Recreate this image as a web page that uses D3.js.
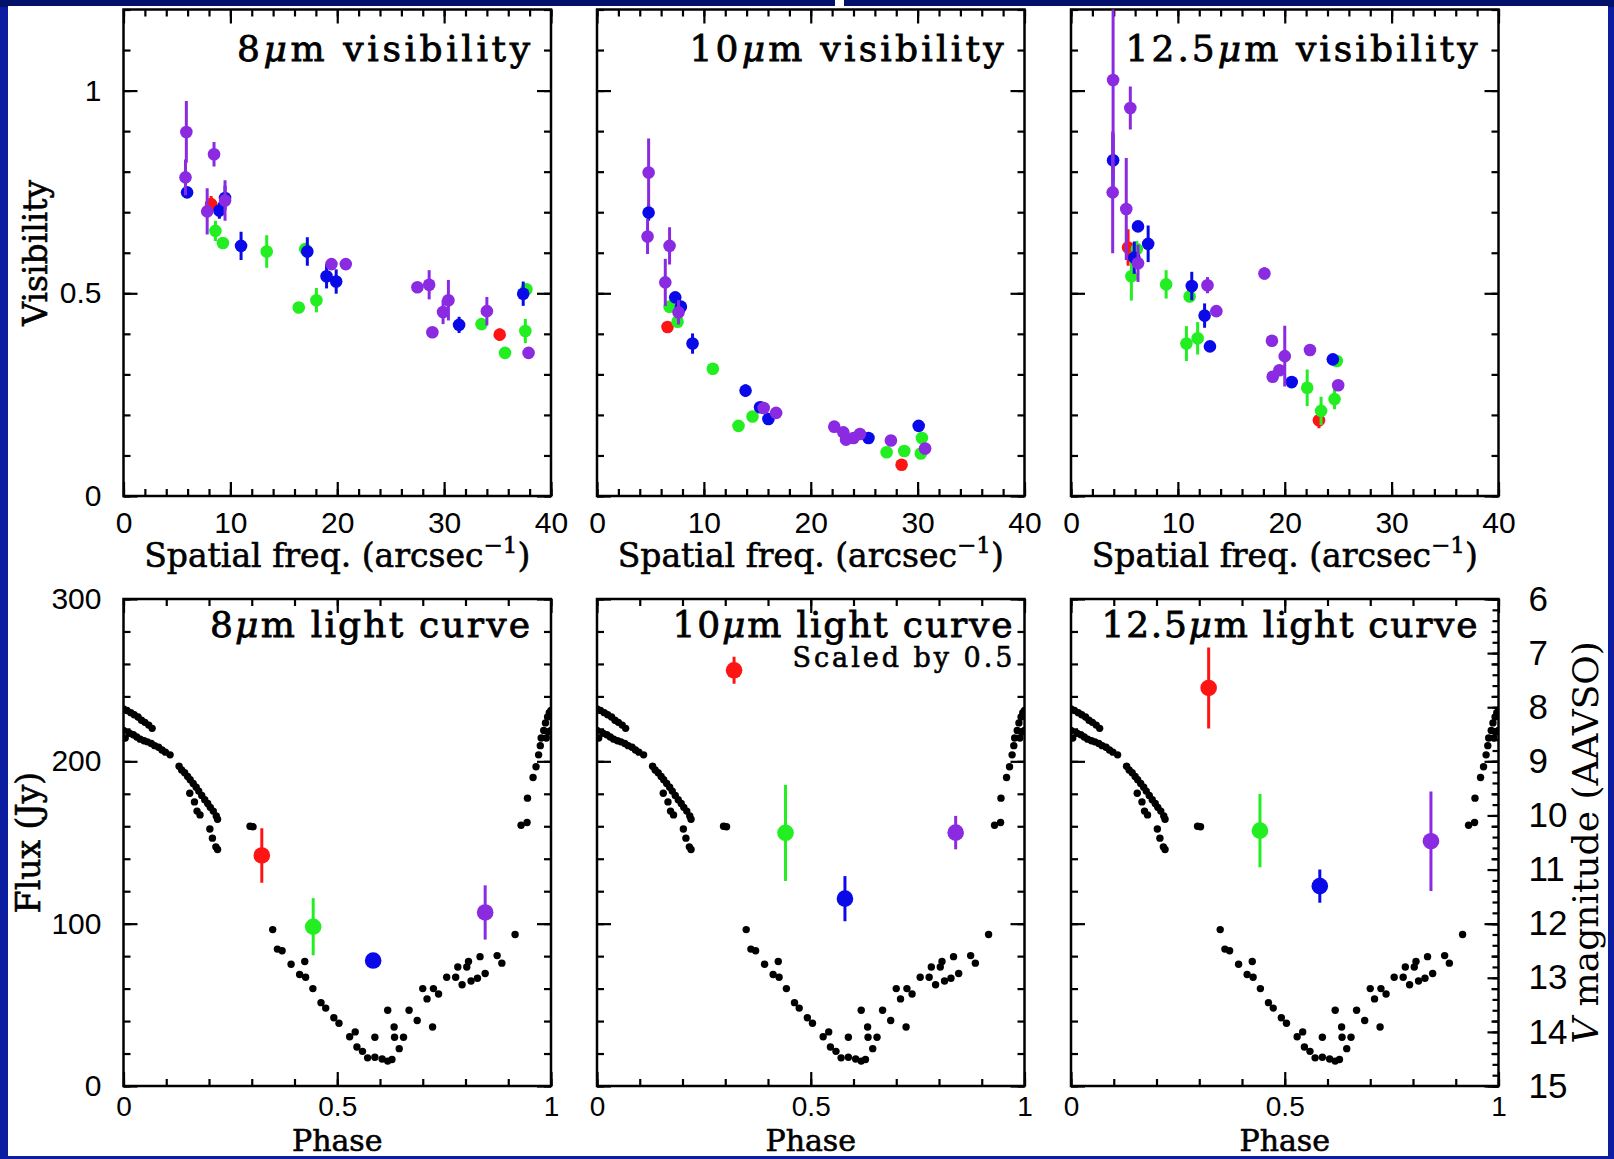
<!DOCTYPE html>
<html>
<head>
<meta charset="utf-8">
<script src="https://cdn.jsdelivr.net/npm/d3@7"></script>
<style>
  body { margin: 0; background: #0b1ea2; }
  svg { display: block; }
</style>
</head>
<body>
<script>
// ---------------- data ----------------
const freqTicks = [0, 10, 20, 30, 40];
const visTicks = [0, 0.5, 1];
const phaseTicks = [0, 0.5, 1];
const fluxTicks = [0, 100, 200, 300];
const magTicks = [6, 7, 8, 9, 10, 11, 12, 13, 14, 15];

const bands = ['8', '10', '12.5'];
// epoch colours, in drawing order
const epochColors = ['#ff1414', '#22ee22', '#0a0ae8', '#8a2be2'];

// visibility points: [spatial freq (arcsec^-1), visibility, error]
const vis8Red = [[8.2, 0.72, 0.02], [35.2, 0.398, 0.015]];
const vis8Green = [[8.6, 0.654, 0.025], [9.3, 0.624, 0], [13.4, 0.603, 0.04], [16.4, 0.465, 0], [17.0, 0.609, 0.01],
  [18.05, 0.483, 0.03], [33.5, 0.424, 0], [35.7, 0.353, 0], [37.6, 0.407, 0.03], [37.7, 0.51, 0]];
const vis8Blue = [[5.95, 0.749, 0], [8.97, 0.704, 0.02], [9.5, 0.735, 0.03], [11.0, 0.617, 0.035], [17.2, 0.603, 0.035],
  [19.0, 0.542, 0.03], [19.9, 0.529, 0.03], [31.4, 0.422, 0.02], [37.4, 0.499, 0.03]];
const vis8Purple = [[5.88, 0.898, 0.076], [5.8, 0.786, 0.044], [8.47, 0.843, 0.03], [7.83, 0.702, 0.057], [9.5, 0.729, 0.05],
  [19.46, 0.572, 0], [20.8, 0.572, 0], [27.5, 0.515, 0], [28.6, 0.521, 0.036], [28.9, 0.404, 0], [29.9, 0.454, 0.03],
  [30.4, 0.483, 0.05], [34.0, 0.456, 0.035], [37.9, 0.353, 0]];

const vis10Red = [[6.6, 0.417, 0], [28.5, 0.077, 0]];
const vis10Green = [[6.79, 0.467, 0], [7.54, 0.43, 0], [10.84, 0.314, 0], [13.24, 0.173, 0], [14.55, 0.196, 0],
  [27.1, 0.108, 0], [28.75, 0.111, 0], [30.3, 0.105, 0], [30.4, 0.143, 0]];
const vis10Blue = [[4.83, 0.699, 0.02], [7.32, 0.49, 0], [7.85, 0.467, 0], [8.94, 0.376, 0.025], [13.9, 0.26, 0.015],
  [15.26, 0.219, 0], [16.04, 0.19, 0], [25.4, 0.143, 0], [30.1, 0.173, 0]];
const vis10Purple = [[4.83, 0.798, 0.084], [4.73, 0.64, 0.043], [6.79, 0.617, 0.046], [6.39, 0.527, 0.058], [7.63, 0.453, 0.03],
  [15.6, 0.217, 0], [16.76, 0.205, 0], [22.2, 0.171, 0], [23.05, 0.157, 0], [23.3, 0.139, 0], [24.0, 0.143, 0],
  [24.6, 0.153, 0], [27.5, 0.137, 0], [30.7, 0.117, 0]];

const vis12Red = [[5.34, 0.613, 0.045], [23.2, 0.187, 0.02]];
const vis12Green = [[5.65, 0.542, 0.06], [6.16, 0.609, 0.02], [8.9, 0.522, 0.035], [11.1, 0.492, 0], [10.8, 0.376, 0.043],
  [11.85, 0.389, 0.04], [22.1, 0.267, 0.045], [23.4, 0.21, 0.035], [24.66, 0.239, 0.025], [24.87, 0.333, 0]];
const vis12Blue = [[3.94, 0.828, 0.066], [6.27, 0.665, 0], [7.22, 0.622, 0.045], [5.92, 0.588, 0.04], [11.3, 0.518, 0.035],
  [12.5, 0.445, 0.03], [13.0, 0.369, 0], [20.65, 0.281, 0], [24.5, 0.337, 0]];
const vis12Purple = [[3.94, 1.026, 0.25], [3.9, 0.749, 0.15], [5.55, 0.957, 0.053], [5.17, 0.708, 0.126], [6.27, 0.574, 0.046],
  [12.77, 0.52, 0.02], [13.6, 0.456, 0], [18.1, 0.549, 0.015], [18.8, 0.383, 0], [20.0, 0.345, 0.075], [18.87, 0.294, 0],
  [19.5, 0.31, 0], [22.36, 0.36, 0], [25.0, 0.273, 0]];

// AAVSO V-band light curve (phase, V magnitude) - same in all three lower panels
const phaseV = [0.000, 0.008, 0.017, 0.025, 0.034, 0.042, 0.050, 0.059, 0.067,
  0.000, 0.004, 0.014, 0.023, 0.031, 0.039, 0.048, 0.056, 0.065, 0.073, 0.082, 0.090, 0.098, 0.109,
  0.130, 0.136, 0.143, 0.150, 0.156, 0.163, 0.170, 0.176, 0.183, 0.190, 0.197, 0.203, 0.210, 0.217, 0.220,
  0.155, 0.166, 0.172, 0.179, 0.202, 0.208, 0.216, 0.220,
  0.296, 0.303, 0.349, 0.360, 0.371, 0.392, 0.424, 0.412, 0.426, 0.443, 0.462, 0.473, 0.492, 0.504,
  0.529, 0.542, 0.546, 0.559, 0.571, 0.588, 0.588, 0.605, 0.618, 0.628, 0.618, 0.633, 0.645, 0.634, 0.655,
  0.668, 0.687, 0.700, 0.710, 0.725, 0.737, 0.723, 0.756, 0.777, 0.782, 0.792, 0.803, 0.807, 0.813, 0.828,
  0.834, 0.846, 0.874, 0.885, 0.916, 0.930, 0.944, 0.945, 0.958, 0.965, 0.971, 0.975, 0.977, 0.983, 0.987,
  0.992, 0.996, 1.000, 0.994, 1.000, 0.989];
const magV = [8.03, 8.06, 8.10, 8.14, 8.18, 8.24, 8.28, 8.33, 8.39,
  8.43, 8.57, 8.48, 8.51, 8.55, 8.59, 8.62, 8.64, 8.67, 8.71, 8.74, 8.79, 8.83, 8.88,
  9.09, 9.16, 9.21, 9.28, 9.34, 9.41, 9.48, 9.55, 9.63, 9.71, 9.78, 9.85, 9.92, 10.01, 10.07,
  9.59, 9.75, 9.92, 9.99, 10.25, 10.42, 10.58, 10.63,
  10.20, 10.21, 12.11, 12.47, 12.50, 12.75, 12.70, 12.94, 12.99, 13.20, 13.46, 13.56, 13.74, 13.84,
  14.09, 14.00, 14.28, 14.36, 14.48, 14.47, 14.10, 14.50, 14.54, 14.51, 13.60, 13.91, 14.31, 14.10, 14.10,
  13.60, 13.79, 13.20, 13.39, 13.20, 13.30, 13.91, 12.99, 12.99, 12.80, 13.13, 12.80, 12.70, 13.06, 13.01,
  12.61, 12.92, 12.59, 12.73, 12.20, 10.18, 10.13, 9.68, 9.30, 9.10, 8.88, 8.71, 8.57, 8.43, 8.29,
  8.18, 8.10, 8.06, 8.46, 8.43, 8.57];

// mid-IR fluxes per epoch (red, green, blue, purple): [phase, flux (Jy), error]
const flux8 = [[0.3235, 142.0, 16.8], [0.4437, 98.1, 17.6], [0.584, 77.3, 0], [0.846, 106.9, 16.7]];
const flux10 = [[0.3206, 256.1, 8.3], [0.441, 155.9, 29.6], [0.580, 115.4, 13.9], [0.839, 156.1, 10.3]];
const flux12 = [[0.322, 245.2, 25.0], [0.442, 157.3, 22.6], [0.582, 123.1, 10.2], [0.842, 150.8, 30.6]];

const visData = [
  [vis8Red, vis8Green, vis8Blue, vis8Purple],
  [vis10Red, vis10Green, vis10Blue, vis10Purple],
  [vis12Red, vis12Green, vis12Blue, vis12Purple]
];
const fluxData = [flux8, flux10, flux12];

// ---------------- layout ----------------
const W = 1614, H = 1159;
const panelLeft = [123.5, 597, 1071];
const panelW = 427.5;
const topY = [9.5, 496];
const botY = [599, 1086];
const serif = "'DejaVu Serif', 'Liberation Serif', serif";
const sans = "'Liberation Sans', Arial, sans-serif";

const svg = d3.select('body').append('svg')
  .attr('width', W)
  .attr('height', H);

// slide background and white plotting sheet
svg.append('rect').attr('width', W).attr('height', H).attr('fill', '#0b1ea2');
svg.append('rect').attr('width', W).attr('height', 7).attr('fill', '#03106c');
svg.append('rect').attr('x', 8).attr('y', 6).attr('width', 1600).attr('height', 1150).attr('fill', '#fff');
svg.append('rect').attr('x', 835).attr('y', 0).attr('width', 9).attr('height', 6).attr('fill', '#fff');

// draw a set of ticks with a d3 axis, ticks pointing into the frame
function ticks(g, axisFn, scale, values, size, transform, fmt, pad, fontSize) {
  const ax = axisFn(scale)
    .tickValues(values)
    .tickSize(-size)
    .tickPadding(pad || 0)
    .tickFormat(fmt || (() => ''));
  const a = g.append('g')
    .attr('transform', transform)
    .call(ax)
    .attr('font-family', sans)
    .attr('font-size', fontSize || 30);
  a.select('.domain').remove();
  a.selectAll('line').attr('stroke', '#000').attr('stroke-width', 2.2);
  a.selectAll('text').attr('fill', '#000');
  return a;
}

const fmtNum = d => String(d);

function frame(g, x0, y0, w, h) {
  g.append('rect')
    .attr('x', x0).attr('y', y0)
    .attr('width', w).attr('height', h)
    .attr('fill', 'none')
    .attr('stroke', '#000')
    .attr('stroke-width', 2.5);
}

function muTitle(g, xRight, y, pre, post, size, len) {
  const t = g.append('text')
    .attr('x', xRight).attr('y', y)
    .attr('text-anchor', 'end')
    .attr('font-family', serif)
    .attr('font-size', size)
    .attr('textLength', len)
    .attr('lengthAdjust', 'spacing')
    .attr('fill', '#000')
    .attr('stroke', '#000')
    .attr('stroke-width', 0.8);
  t.append('tspan').text(pre);
  t.append('tspan').attr('font-style', 'italic').text('\u03bc');
  t.append('tspan').text('m ' + post);
}

const visTitleLen = [293, 314, 352];
const lcTitleLen = [320, 340, 376];

// ---------------- upper row: visibilities ----------------
bands.forEach((band, i) => {
  const x0 = panelLeft[i];
  const x = d3.scaleLinear().domain([0, 40]).range([x0, x0 + panelW]);
  const y = d3.scaleLinear().domain([0, 1.2]).range([topY[1], topY[0]]);
  const g = svg.append('g');

  // clip to the frame
  const clipId = 'clipVis' + i;
  svg.append('clipPath').attr('id', clipId)
    .append('rect').attr('x', x0).attr('y', topY[0])
    .attr('width', panelW).attr('height', topY[1] - topY[0]);

  // minor + major ticks on all four sides
  const minorX = d3.range(0, 40.01, 2);
  const minorY = d3.range(0, 1.201, 0.1);
  ticks(g, d3.axisBottom, x, minorX, 7, `translate(0,${topY[1]})`);
  ticks(g, d3.axisTop, x, minorX, 7, `translate(0,${topY[0]})`);
  ticks(g, d3.axisTop, x, freqTicks, 14, `translate(0,${topY[0]})`);
  ticks(g, d3.axisBottom, x, freqTicks, 14, `translate(0,${topY[1]})`, fmtNum, 16);
  ticks(g, d3.axisLeft, y, minorY, 7, `translate(${x0},0)`);
  ticks(g, d3.axisRight, y, minorY, 7, `translate(${x0 + panelW},0)`);
  ticks(g, d3.axisRight, y, visTicks, 14, `translate(${x0 + panelW},0)`);
  ticks(g, d3.axisLeft, y, visTicks, 14, `translate(${x0},0)`, i === 0 ? fmtNum : null, 22);

  frame(g, x0, topY[0], panelW, topY[1] - topY[0]);

  const plot = g.append('g').attr('clip-path', `url(#${clipId})`);
  visData[i].forEach((series, k) => {
    plot.selectAll(null).data(series.filter(d => d[2] > 0)).join('line')
      .attr('x1', d => x(d[0])).attr('x2', d => x(d[0]))
      .attr('y1', d => y(d[1] - d[2])).attr('y2', d => y(d[1] + d[2]))
      .attr('stroke', epochColors[k]).attr('stroke-width', 3);
    plot.selectAll(null).data(series).join('circle')
      .attr('cx', d => x(d[0])).attr('cy', d => y(d[1]))
      .attr('r', 6.3)
      .attr('fill', epochColors[k]);
  });

  muTitle(g, x0 + panelW - 21, 61, band, 'visibility', 36, visTitleLen[i]);

  // x-axis label with superscript
  const lab = g.append('text')
    .attr('x', x0 + panelW / 2).attr('y', 567)
    .attr('text-anchor', 'middle')
    .attr('font-family', serif).attr('font-size', 33).attr('fill', '#000')
    .attr('stroke', '#000').attr('stroke-width', 0.6);
  lab.append('tspan').text('Spatial freq. (arcsec');
  lab.append('tspan').attr('dy', -14).attr('font-size', 23).text('\u22121');
  lab.append('tspan').attr('dy', 14).text(')');
});

svg.append('text')
  .attr('transform', `translate(47,${(topY[0] + topY[1]) / 2}) rotate(-90)`)
  .attr('text-anchor', 'middle')
  .attr('font-family', serif).attr('font-size', 33).attr('fill', '#000')
  .attr('stroke', '#000').attr('stroke-width', 0.6)
  .text('Visibility');

// ---------------- lower row: light curves ----------------
const lcTitleInset = [21, 12, 21];
bands.forEach((band, i) => {
  const x0 = panelLeft[i];
  const x = d3.scaleLinear().domain([0, 1]).range([x0, x0 + panelW]);
  const y = d3.scaleLinear().domain([0, 300]).range([botY[1], botY[0]]);
  const mag = d3.scaleLinear().domain([6, 15]).range([botY[0], botY[1]]);
  const g = svg.append('g');

  const clipId = 'clipLc' + i;
  svg.append('clipPath').attr('id', clipId)
    .append('rect').attr('x', x0).attr('y', botY[0])
    .attr('width', panelW).attr('height', botY[1] - botY[0]);

  const minorX = d3.range(0, 1.001, 0.1);
  const minorY = d3.range(0, 300.1, 20);
  ticks(g, d3.axisBottom, x, minorX, 7, `translate(0,${botY[1]})`);
  ticks(g, d3.axisTop, x, minorX, 7, `translate(0,${botY[0]})`);
  ticks(g, d3.axisTop, x, phaseTicks, 14, `translate(0,${botY[0]})`);
  ticks(g, d3.axisBottom, x, phaseTicks, 14, `translate(0,${botY[1]})`, fmtNum, 10, 28);
  ticks(g, d3.axisLeft, y, minorY, 7, `translate(${x0},0)`);
  ticks(g, d3.axisRight, y, minorY, 7, `translate(${x0 + panelW},0)`);
  ticks(g, d3.axisRight, y, fluxTicks, 14, `translate(${x0 + panelW},0)`);
  ticks(g, d3.axisLeft, y, fluxTicks, 14, `translate(${x0},0)`, i === 0 ? fmtNum : null, 22);
  if (i === 2) {
    ticks(g, d3.axisRight, mag, d3.range(6, 15.01, 0.2), 6, `translate(${x0 + panelW},0)`);
    ticks(g, d3.axisRight, mag, magTicks, 11, `translate(${x0 + panelW},0)`, fmtNum, 30, 35);
  }

  frame(g, x0, botY[0], panelW, botY[1] - botY[0]);

  const plot = g.append('g').attr('clip-path', `url(#${clipId})`);
  plot.selectAll(null).data(d3.range(phaseV.length)).join('circle')
    .attr('cx', j => x(phaseV[j]))
    .attr('cy', j => mag(magV[j]))
    .attr('r', 3.7)
    .attr('fill', '#000');

  fluxData[i].forEach((d, k) => {
    if (d[2] > 0) {
      plot.append('line')
        .attr('x1', x(d[0])).attr('x2', x(d[0]))
        .attr('y1', y(d[1] - d[2])).attr('y2', y(d[1] + d[2]))
        .attr('stroke', epochColors[k]).attr('stroke-width', 3);
    }
    plot.append('circle')
      .attr('cx', x(d[0])).attr('cy', y(d[1]))
      .attr('r', 8.3)
      .attr('fill', epochColors[k]);
  });

  muTitle(g, x0 + panelW - lcTitleInset[i], 637, band, 'light curve', 36, lcTitleLen[i]);
  if (i === 1) {
    g.append('text')
      .attr('x', x0 + panelW - lcTitleInset[i]).attr('y', 667)
      .attr('text-anchor', 'end')
      .attr('font-family', serif).attr('font-size', 27)
      .attr('textLength', 220).attr('lengthAdjust', 'spacing')
      .attr('fill', '#000')
      .attr('stroke', '#000').attr('stroke-width', 0.6)
      .text('Scaled by 0.5');
  }

  g.append('text')
    .attr('x', x0 + panelW / 2).attr('y', 1151)
    .attr('text-anchor', 'middle')
    .attr('font-family', serif).attr('font-size', 30).attr('fill', '#000')
    .attr('stroke', '#000').attr('stroke-width', 0.6)
    .text('Phase');
});

svg.append('text')
  .attr('transform', `translate(40,${(botY[0] + botY[1]) / 2}) rotate(-90)`)
  .attr('text-anchor', 'middle')
  .attr('font-family', serif).attr('font-size', 33).attr('fill', '#000')
  .attr('stroke', '#000').attr('stroke-width', 0.6)
  .text('Flux (Jy)');

const vLab = svg.append('text')
  .attr('transform', `translate(1598,${(botY[0] + botY[1]) / 2}) rotate(-90)`)
  .attr('text-anchor', 'middle')
  .attr('font-family', serif).attr('font-size', 36).attr('fill', '#000');
vLab.append('tspan').attr('font-style', 'italic').text('V');
vLab.append('tspan').text(' magnitude (AAVSO)');
</script>
</body>
</html>
